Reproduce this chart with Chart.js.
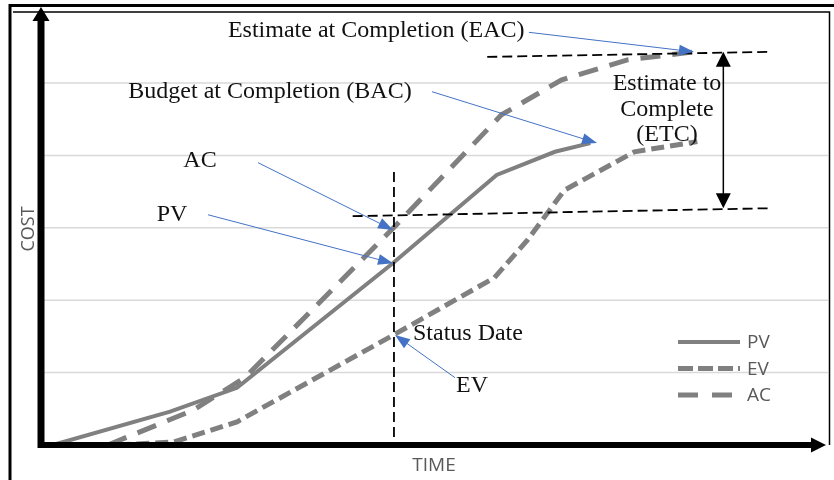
<!DOCTYPE html>
<html>
<head>
<meta charset="utf-8">
<script src="https://cdn.jsdelivr.net/npm/chart.js@4.4.1/dist/chart.umd.min.js"></script>
<style>
  html, body { margin: 0; padding: 0; background: #fff; }
  #wrap { width: 834px; height: 480px; }
</style>
</head>
<body>
<div id="wrap"><canvas id="evmChart" width="834" height="480"></canvas></div>
<script>
// series (time 0-100, cost 0-6)
const timePV = [1.5, 16.4, 24.9, 44.7, 57.9, 65.3, 69.8];
const costPV = [0, 0.46, 0.79, 2.51, 3.73, 4.05, 4.17];
const timeEV = [9.7, 16.8, 24.9, 44.8, 57.6, 61.8, 66.5, 75.4, 83.4];
const costEV = [0, 0.04, 0.32, 1.52, 2.31, 2.83, 3.52, 4.05, 4.19];
const timeAC = [8.5, 19.3, 25.9, 44.8, 58.5, 66.1, 74.5, 83.0];
const costAC = [0, 0.48, 0.93, 3.0, 4.56, 5.04, 5.32, 5.43];
const seriesNames = ['PV', 'EV', 'AC'];
const gridValues = [1, 2, 3, 4, 5];

// annotations, in data units
const statusDate = 44.85;
const statusTop = 3.77;
const eacLine = [[56.7, 5.36], [92.5, 5.43]];
const bacLine = [[39.6, 3.16], [92.5, 3.27]];
const etcArrow = [86.7, 5.43, 3.27];
const blueArrows = [
  [62.0, 5.70, 82.97, 5.43],
  [49.68, 4.88, 70.65, 4.17],
  [27.57, 3.90, 44.73, 2.97],
  [21.22, 3.18, 44.73, 2.51],
  [52.6, 0.93, 44.98, 1.52]
];
const labels = [
  ['Estimate at Completion (EAC)', 42.6, 5.73],
  ['Budget at Completion (BAC)', 29.1, 4.90],
  ['AC', 20.2, 3.94],
  ['PV', 16.65, 3.20],
  ['Status Date', 54.25, 1.55],
  ['EV', 54.77, 0.83],
  ['Estimate to', 79.54, 5.01],
  ['Complete', 79.54, 4.65],
  ['(ETC)', 79.54, 4.30]
];

const GRAY = '#808080';
const dashes = { PV: [], EV: [13, 6], AC: [20, 12] };
const widths = { PV: 4, EV: 5, AC: 5 };

function pts(xs, ys) { return xs.map((x, i) => ({ x: x, y: ys[i] })); }

function head(ctx, x1, y1, x2, y2, len, wid) {
  const a = Math.atan2(y2 - y1, x2 - x1);
  ctx.beginPath();
  ctx.moveTo(x2, y2);
  ctx.lineTo(x2 - len * Math.cos(a) + wid / 2 * Math.sin(a), y2 - len * Math.sin(a) - wid / 2 * Math.cos(a));
  ctx.lineTo(x2 - len * Math.cos(a) - wid / 2 * Math.sin(a), y2 - len * Math.sin(a) + wid / 2 * Math.cos(a));
  ctx.closePath();
  ctx.fill();
}

const decor = {
  id: 'decor',
  beforeDatasetsDraw(chart) {
    const ctx = chart.ctx, xs = chart.scales.x, ys = chart.scales.y;
    ctx.save();
    ctx.strokeStyle = '#d9d9d9';
    ctx.lineWidth = 1.5;
    gridValues.forEach(v => {
      const y = ys.getPixelForValue(v);
      ctx.beginPath();
      ctx.moveTo(xs.left, y);
      ctx.lineTo(xs.right, y);
      ctx.stroke();
    });
    ctx.restore();
  },
  afterDatasetsDraw(chart) {
    const ctx = chart.ctx, xs = chart.scales.x, ys = chart.scales.y;
    const X = v => xs.getPixelForValue(v), Y = v => ys.getPixelForValue(v);
    const a = chart.chartArea;
    ctx.save();

    // frames
    ctx.strokeStyle = '#000';
    ctx.lineWidth = 3;
    ctx.beginPath();
    ctx.moveTo(10, 480); ctx.lineTo(10, 5.5); ctx.lineTo(834, 5.5);
    ctx.stroke();
    ctx.lineWidth = 1.5;
    ctx.beginPath();
    ctx.moveTo(13, 12); ctx.lineTo(829.5, 12); ctx.lineTo(829.5, a.bottom);
    ctx.stroke();

    // black dashed guides
    ctx.lineWidth = 1.8;
    ctx.setLineDash([10, 5]);
    ctx.beginPath();
    ctx.moveTo(X(statusDate), Y(statusTop)); ctx.lineTo(X(statusDate), Y(0));
    [eacLine, bacLine].forEach(l => {
      ctx.moveTo(X(l[0][0]), Y(l[0][1])); ctx.lineTo(X(l[1][0]), Y(l[1][1]));
    });
    ctx.stroke();
    ctx.setLineDash([]);

    // ETC double arrow
    const ex = X(etcArrow[0]), et = Y(etcArrow[1]), eb = Y(etcArrow[2]);
    ctx.lineWidth = 1.5;
    ctx.beginPath(); ctx.moveTo(ex, et + 10); ctx.lineTo(ex, eb - 10); ctx.stroke();
    ctx.fillStyle = '#000';
    head(ctx, ex, eb, ex, et, 15, 15);
    head(ctx, ex, et, ex, eb, 15, 15);

    // axes
    ctx.lineWidth = 7;
    ctx.beginPath(); ctx.moveTo(41, a.bottom + 3); ctx.lineTo(41, 18); ctx.stroke();
    ctx.lineWidth = 6;
    ctx.beginPath(); ctx.moveTo(38, a.bottom); ctx.lineTo(814, a.bottom); ctx.stroke();
    head(ctx, 41, 30, 41, 7, 14, 17);
    head(ctx, 800, a.bottom, 826, a.bottom, 15, 15);

    // blue pointers
    ctx.strokeStyle = '#4472c4';
    ctx.fillStyle = '#4472c4';
    ctx.lineWidth = 1;
    blueArrows.forEach(b => {
      const x1 = X(b[0]), y1 = Y(b[1]), x2 = X(b[2]), y2 = Y(b[3]);
      const ang = Math.atan2(y2 - y1, x2 - x1);
      ctx.beginPath();
      ctx.moveTo(x1, y1);
      ctx.lineTo(x2 - 12 * Math.cos(ang), y2 - 12 * Math.sin(ang));
      ctx.stroke();
      head(ctx, x1, y1, x2, y2, 15, 11);
    });

    // serif labels
    ctx.fillStyle = '#111';
    ctx.font = '24px "Liberation Serif", "Times New Roman", serif';
    ctx.textAlign = 'center';
    ctx.textBaseline = 'middle';
    labels.forEach(l => ctx.fillText(l[0], X(l[1]), Y(l[2]) + 1));

    // axis titles
    ctx.fillStyle = '#595959';
    ctx.font = '19px "Open Sans", sans-serif';
    ctx.fillText('TIME', 434, 466);
    ctx.save();
    ctx.translate(29, 229);
    ctx.rotate(-Math.PI / 2);
    ctx.font = '18px "Open Sans", sans-serif';
    ctx.fillText('COST', 0, 0);
    ctx.restore();

    // legend
    ctx.textAlign = 'left';
    ctx.font = '19px "Open Sans", sans-serif';
    seriesNames.forEach((n, i) => {
      const y = 342 + i * 26.5;
      ctx.strokeStyle = GRAY;
      ctx.lineWidth = widths[n];
      ctx.setLineDash(n === 'EV' ? [15, 5] : n === 'AC' ? [20, 14] : []);
      ctx.beginPath(); ctx.moveTo(678, y); ctx.lineTo(740, y); ctx.stroke();
      ctx.setLineDash([]);
      ctx.fillStyle = '#595959';
      ctx.fillText(n, 747, y + 1);
    });
    ctx.restore();
  }
};

const seriesData = { PV: pts(timePV, costPV), EV: pts(timeEV, costEV), AC: pts(timeAC, costAC) };

new Chart(document.getElementById('evmChart'), {
  type: 'line',
  data: {
    datasets: seriesNames.map(n => ({
      label: n,
      data: seriesData[n],
      borderColor: GRAY,
      borderWidth: widths[n],
      borderDash: dashes[n],
      borderCapStyle: 'butt',
      pointRadius: 0,
      tension: 0,
      fill: false
    }))
  },
  options: {
    responsive: false,
    animation: false,
    devicePixelRatio: 1,
    layout: { padding: { left: 41, right: 6, top: 10.6, bottom: 35 } },
    plugins: { legend: { display: false }, tooltip: { enabled: false } },
    scales: {
      x: { type: 'linear', min: 0, max: 100, display: false },
      y: { type: 'linear', min: 0, max: 6, display: false }
    }
  },
  plugins: [decor]
});
</script>
</body>
</html>
